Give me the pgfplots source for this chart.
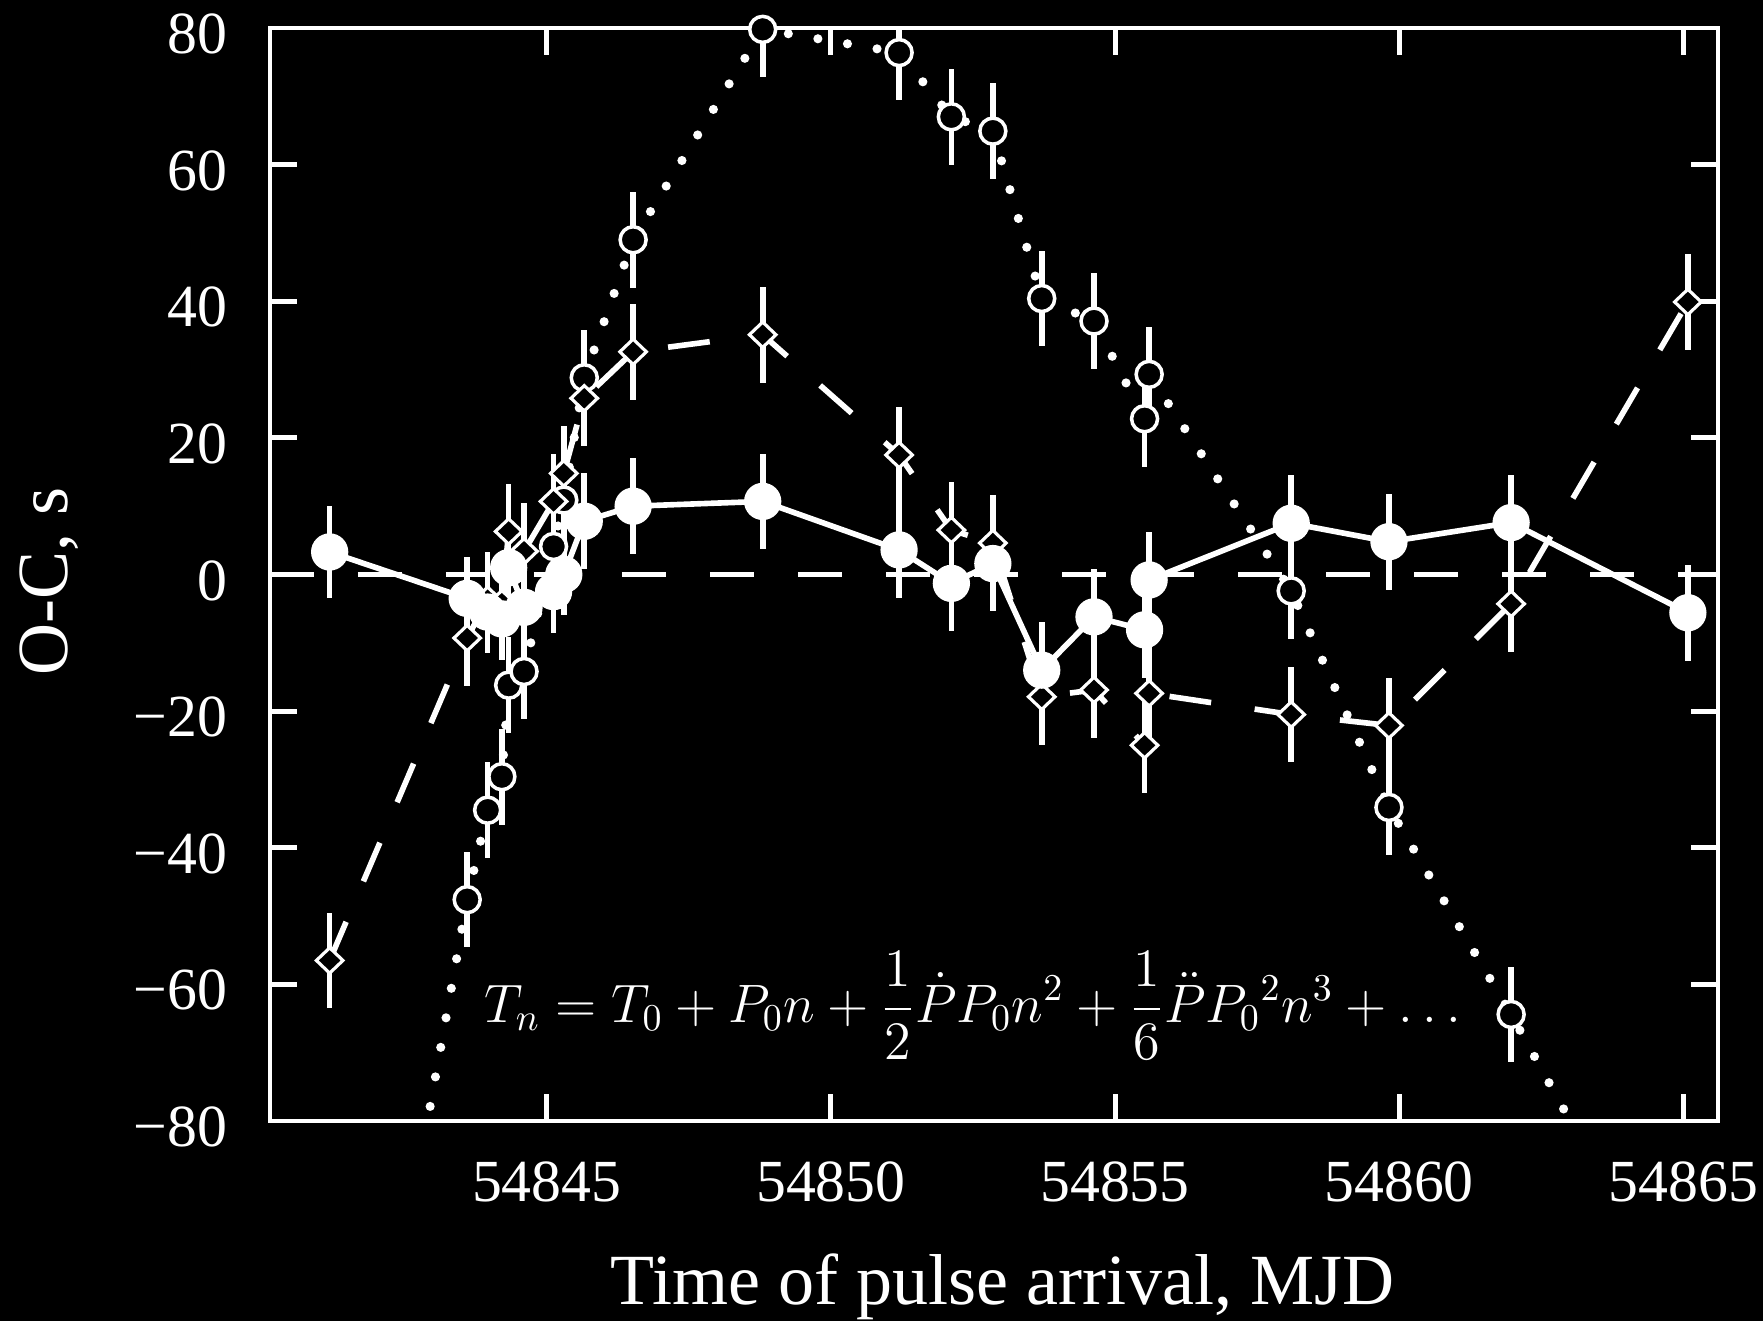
\RequirePackage{fix-cm}
\documentclass[border=0pt]{standalone}
\usepackage[no-math]{fontspec}
\setmainfont{Liberation Serif}
\usepackage{pgfplots}
\usepackage{pgfplotstable}
\pgfplotsset{compat=1.18}

% t = MJD - 54840, v = O-C (s), e = error (s)
% filled circles, solid line
\pgfplotstableread{
t v e
1.18 3.3 6.7
3.60 -3.5 6
3.96 -5.5 6
4.21 -6.5 6
4.33 1.0 6
4.60 -4.8 6
5.12 -2.5 6
5.30 0.0 6
5.66 7.8 7
6.52 10.0 7
8.80 10.7 7
11.20 3.6 7
12.12 -1.3 7
12.85 1.6 7
13.71 -14.0 7
14.63 -6.2 7
15.52 -8.1 7
15.60 -0.8 7
18.10 7.5 7
19.82 4.8 7
21.97 7.6 7
25.08 -5.6 7
}\filled
% open diamonds, dashed line
\pgfplotstableread{
t v e
1.18 -56.5 7
3.60 -9.3 7
3.96 -3.7 7
4.21 -4.2 7
4.33 6.3 7
4.60 3.4 7
5.12 10.7 7
5.30 14.8 7
5.66 25.8 7
6.52 32.6 7
8.80 35.1 7
11.20 17.5 7
12.12 6.5 7
12.85 4.6 7
13.71 -17.9 7
14.63 -16.9 7
15.52 -25.0 7
15.60 -17.4 7
18.10 -20.5 7
19.82 -22.1 7
21.97 -4.3 7
25.08 39.9 7
}\diamonds
% open circles, dotted line (first and last fall below the frame)
\pgfplotstableread{
t v e
1.18 -160 7
3.60 -47.6 7
3.96 -34.5 7
4.21 -29.6 7
4.33 -16.2 7
4.60 -14.2 7
5.12 4.1 7
5.30 10.9 7
5.66 28.8 7
6.52 49.0 7
8.80 79.8 7
11.20 76.4 7
12.12 67.0 7
12.85 64.9 7
13.71 40.4 7
14.63 37.1 7
15.52 22.8 7
15.60 29.3 7
18.10 -2.4 7
19.82 -34.1 7
21.97 -64.4 7
25.08 -111 7
}\circles

\begin{document}
\begin{tikzpicture}
\path[fill=black, use as bounding box] (-2.70,-2.00) rectangle (14.93,11.21);
\begin{axis}[
  width=14.48cm, height=10.93cm, scale only axis,
  xmin=0.13, xmax=25.61, ymin=-80, ymax=80,
  axis line style={white, line width=1.4pt},
  every tick/.style={white, line width=1.4pt},
  major tick length=0.27cm,
  tick align=inside,
  xtick={5,10,15,20,25},
  xticklabels={54845,54850,54855,54860,54865},
  ytick={-80,-60,-40,-20,0,20,40,60,80},
  yticklabels={−80,−60,−40,−20,0,20,40,60,80},
  tick label style={white, font=\fontsize{17}{20}\selectfont, inner sep=0pt},
  xticklabel style={anchor=north, yshift=-0.40cm},
  yticklabel style={anchor=east, xshift=-0.42cm, yshift=-0.06cm},
  xlabel={Time of pulse arrival, MJD},
  ylabel={O-C, s},
  label style={white, font=\fontsize{20.5}{24}\selectfont},
  xlabel style={at={(axis description cs:0.506,-0.1683)}, anchor=base},
  ylabel style={at={(axis description cs:-0.1526,0.494)}, anchor=center},
  axis on top,
  error bars/error bar style={solid, white, line width=1.6pt, line cap=butt},
]
% zero line
\addplot[white, line width=1.5pt, dash pattern=on 0.44cm off 0.44cm]
  coordinates {(0.13,0) (25.61,0)};
% dotted model
\addplot[white, line width=2.6pt, line cap=round, dash pattern=on 0pt off 0.30cm,
  mark=*, mark size=3.7pt,
  mark options={solid, draw=white, fill=black, line width=1pt},
  error bars/.cd, y dir=both, y explicit, error mark=none]
  table[x=t, y=v, y error=e] {\circles};
% dashed model
\addplot[white, line width=1.6pt, dash pattern=on 0.42cm off 0.44cm,
  mark=diamond*, mark size=3.6pt,
  mark options={solid, draw=white, fill=black, line width=0.9pt, xscale=1.4},
  error bars/.cd, y dir=both, y explicit, error mark=none]
  table[x=t, y=v, y error=e] {\diamonds};
% solid model
\addplot[white, line width=1.6pt,
  mark=*, mark size=4.5pt, mark options={solid, draw=white, fill=white},
  error bars/.cd, y dir=both, y explicit, error mark=none]
  table[x=t, y=v, y error=e] {\filled};
\node[white, anchor=base, font=\fontsize{15.4}{18}\selectfont] at (axis cs:12.5,-65.6)
  {$\displaystyle T_n = T_0 + P_0 n + \frac{1}{2}\dot{P}P_0 n^2 + \frac{1}{6}\ddot{P}{P_0}^2 n^3 + \ldots$};
\end{axis}
\end{tikzpicture}
\end{document}
